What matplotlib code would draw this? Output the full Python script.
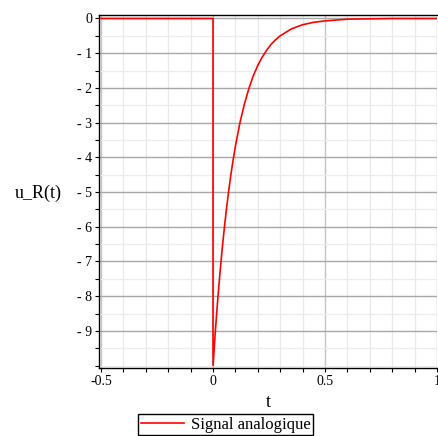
import matplotlib
matplotlib.use("Agg")
import matplotlib.pyplot as plt
from matplotlib.ticker import MultipleLocator, FixedLocator

# Data
t_vals = [-0.5, 0.0, 0.0, 0.01, 0.02, 0.03, 0.04, 0.05, 0.06, 0.07, 0.08, 0.09,
          0.10, 0.12, 0.14, 0.16, 0.18, 0.20, 0.22, 0.24, 0.26, 0.28, 0.30,
          0.35, 0.40, 0.45, 0.50, 0.60, 0.70, 0.80, 1.00]
u_vals = [0.0, 0.0, -10.0, -9.05, -8.19, -7.41, -6.70, -6.07, -5.49, -4.97, -4.49, -4.07,
          -3.68, -3.01, -2.47, -2.02, -1.65, -1.35, -1.11, -0.91, -0.74, -0.61, -0.50,
          -0.30, -0.18, -0.11, -0.07, -0.02, -0.01, 0.00, 0.00]
x_ticks = [-0.5, 0.0, 0.5, 1.0]
x_ticklabels = ["-0.5", "0", "0.5", "1"]
y_ticks = [0, -1, -2, -3, -4, -5, -6, -7, -8, -9]
y_ticklabels = ["0", "- 1", "- 2", "- 3", "- 4", "- 5", "- 6", "- 7", "- 8", "- 9"]
legend_label = "Signal analogique"

plt.rcParams['font.family'] = ['Liberation Serif', 'DejaVu Serif']

fig = plt.figure(figsize=(4.38, 4.36), dpi=100)
ax = fig.add_axes([99/438, 1 - 368/436, (437 - 99)/438, (368 - 15)/436])

ax.plot(t_vals, u_vals, color='#ff0000', lw=1.2, label=legend_label, zorder=3)

ax.set_xlim(-0.509, 1.0)
ax.set_ylim(-10.07, 0.1)

ax.xaxis.set_major_locator(FixedLocator(x_ticks))
ax.set_xticklabels(x_ticklabels)
ax.xaxis.set_minor_locator(MultipleLocator(0.1))
ax.yaxis.set_major_locator(FixedLocator(y_ticks))
ax.set_yticklabels(y_ticklabels)
ax.yaxis.set_minor_locator(MultipleLocator(0.5))

ax.tick_params(axis='both', which='both', direction='out', length=3, width=0.8,
               labelsize=10, pad=2, color='black')

ax.xaxis.grid(True, which='minor', color='#e8e8e8', lw=0.9, zorder=0)
ax.yaxis.grid(True, which='minor', color='#ececec', lw=0.9, zorder=0)
ax.xaxis.grid(True, which='major', color='#c4c4c4', lw=1.0, zorder=0)
ax.yaxis.grid(True, which='major', color='#a8a8a8', lw=1.0, zorder=0)
ax.set_axisbelow(True)

ax.spines['right'].set_visible(False)
for s in ['left', 'bottom', 'top']:
    ax.spines[s].set_linewidth(1.0)
    ax.spines[s].set_color('black')

ax.set_xlabel('t', fontsize=13, labelpad=4)
fig.text(38/438, 1 - 193/436, 'u_R(t)', fontsize=13, ha='center', va='center')

fig.legend(loc='lower center', bbox_to_anchor=(225.5/438, 1/436), fontsize=12,
           frameon=True, fancybox=False, edgecolor='black', framealpha=1,
           handlelength=2.6, borderpad=0.15, handletextpad=0.4, borderaxespad=0)

fig.savefig('out.png', dpi=100)
